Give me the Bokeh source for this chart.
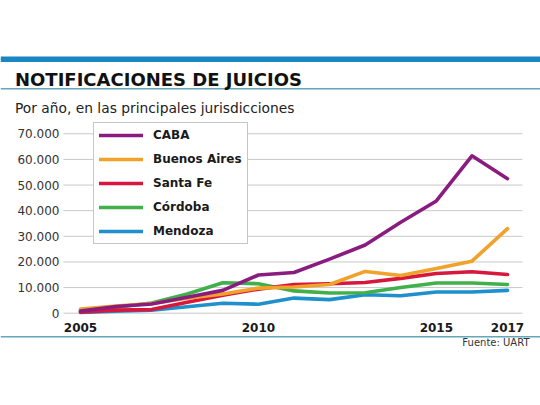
from bokeh.plotting import figure
from bokeh.models import (FixedTicker, Legend, LegendItem, Range1d, Label,
                          BoxAnnotation)
from bokeh.embed import file_html
from bokeh.resources import INLINE

# ---- data ----
years = [2005, 2006, 2007, 2008, 2009, 2010, 2011, 2012, 2013, 2014, 2015, 2016, 2017]
caba = [800, 2600, 3600, 6200, 8900, 14900, 15900, 21100, 26600, 35500, 43800, 61400, 52500]
buenos_aires = [1600, 2800, 3800, 5800, 7500, 9800, 10200, 11200, 16300, 14700, 17400, 20300, 33000]
santa_fe = [400, 1200, 1400, 4300, 7000, 9400, 11200, 11500, 12000, 13600, 15500, 16200, 15100]
cordoba = [900, 2300, 4000, 7500, 11900, 11500, 8700, 7900, 8000, 10000, 11800, 11800, 11200]
mendoza = [300, 800, 1200, 2500, 3900, 3500, 5900, 5300, 7200, 6800, 8300, 8300, 8900]

series_names = ["CABA", "Buenos Aires", "Santa Fe", "Córdoba", "Mendoza"]
series_values = [caba, buenos_aires, santa_fe, cordoba, mendoza]
series_colors = ["#8a1c80", "#f0a22a", "#d8173c", "#3fb04a", "#1e90cc"]

y_ticks = [0, 10000, 20000, 30000, 40000, 50000, 60000, 70000]
y_tick_labels = ["0", "10.000", "20.000", "30.000", "40.000", "50.000", "60.000", "70.000"]
x_ticks = [2005, 2010, 2015, 2017]

title_text = "NOTIFICACIONES DE JUICIOS"
subtitle_text = "Por año, en las principales jurisdicciones"
source_text = "Fuente: UART"

FONT = "DejaVu Sans"
RULE = "#62a8b8"
W, H = 540, 400

# plotting region (in data units) inside a full-canvas frame
X_LEFT, X_RIGHT = 2004.52, 2017.42
Y_AXIS_AT = -3240

p = figure(width=W, height=H, output_backend="svg", toolbar_location=None,
           title=None,
           x_range=Range1d(2002.752, 2017.927), y_range=Range1d(-34063, 122010),
           min_border=0, min_border_left=0, min_border_right=0,
           min_border_top=0, min_border_bottom=0)
p.background_fill_color = "white"
p.border_fill_color = "white"
p.outline_line_color = None
p.grid.visible = False

p.xaxis.fixed_location = Y_AXIS_AT
p.xaxis.ticker = FixedTicker(ticks=x_ticks)
p.xaxis.axis_line_color = None
p.xaxis.major_tick_line_color = None
p.xaxis.minor_tick_line_color = None
p.xaxis.major_tick_out = 0
p.xaxis.major_label_standoff = 1
p.xaxis.major_label_text_font = FONT
p.xaxis.major_label_text_font_style = "bold"
p.xaxis.major_label_text_font_size = "12px"
p.xaxis.major_label_text_color = "#1a1a1a"

p.yaxis.fixed_location = X_LEFT
p.yaxis.ticker = FixedTicker(ticks=y_ticks)
p.yaxis.major_label_overrides = {t: l for t, l in zip(y_ticks, y_tick_labels)}
p.yaxis.axis_line_color = None
p.yaxis.major_tick_line_color = None
p.yaxis.minor_tick_line_color = None
p.yaxis.major_tick_out = 0
p.yaxis.major_label_standoff = 4
p.yaxis.major_label_text_font = FONT
p.yaxis.major_label_text_font_size = "12px"
p.yaxis.major_label_text_color = "#333333"

# horizontal grid lines spanning the plotting region only
p.segment(x0=[X_LEFT] * len(y_ticks), x1=[X_RIGHT] * len(y_ticks),
          y0=y_ticks, y1=y_ticks, line_color="#c9c9c9", line_width=1)

renderers = {}
for name, vals, col in reversed(list(zip(series_names, series_values, series_colors))):
    r = p.line(years, vals, line_color=col, line_width=3.6, line_join="round",
               line_cap="round")
    renderers[name] = r

legend = Legend(items=[LegendItem(label=n, renderers=[renderers[n]]) for n in series_names],
                location=(93, 156))
legend.label_text_font = FONT
legend.label_text_font_style = "bold"
legend.label_text_font_size = "12px"
legend.label_text_color = "#1a1a1a"
legend.glyph_width = 44
legend.glyph_height = 14
legend.label_height = 14
legend.label_standoff = 10
legend.spacing = 10
legend.padding = 5
legend.margin = 0
legend.border_line_color = "#8c8c8c"
legend.border_line_width = 1.5
legend.background_fill_color = "white"
legend.background_fill_alpha = 1
p.add_layout(legend, "center")


def rule(top_px, bottom_px, color):
    # screen units measured from the bottom of the frame
    p.add_layout(BoxAnnotation(left=0, right=W, top=H - top_px, bottom=H - bottom_px,
                               left_units="screen", right_units="screen",
                               top_units="screen", bottom_units="screen",
                               fill_color=color, fill_alpha=1, line_color=None))


rule(56, 61.5, "#1a86c2")
rule(87.5, 89, RULE)
rule(335.5, 337, RULE)

p.add_layout(Label(x=14.5, y=H - 78.5, x_units="screen", y_units="screen",
                   text=title_text, text_font=FONT, text_font_style="bold",
                   text_font_size="18px", text_color="#111111",
                   text_baseline="alphabetic", text_align="left"))
p.add_layout(Label(x=14.5, y=H - 107.5, x_units="screen", y_units="screen",
                   text=subtitle_text, text_font=FONT,
                   text_font_size="13.8px", text_color="#222222",
                   text_baseline="alphabetic", text_align="left"))
p.add_layout(Label(x=529, y=H - 342, x_units="screen", y_units="screen",
                   text=source_text, text_font=FONT,
                   text_font_size="10px", text_color="#333333",
                   text_baseline="alphabetic", text_align="right"))

open("out.html", "w").write(file_html(p, INLINE))
